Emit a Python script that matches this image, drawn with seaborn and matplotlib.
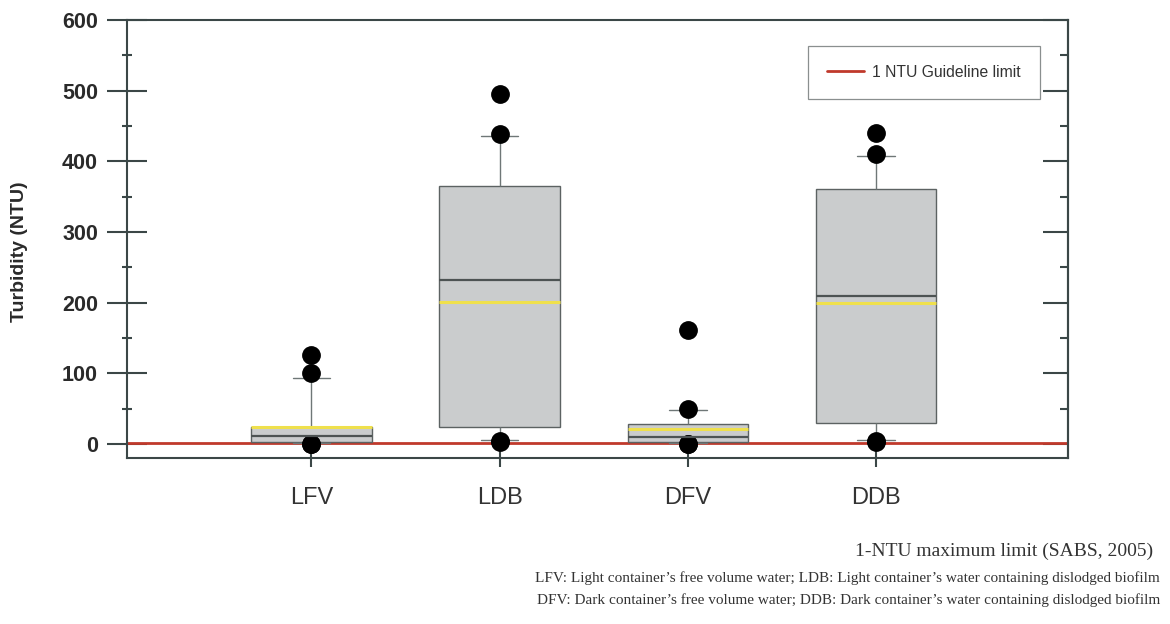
import matplotlib
matplotlib.use("Agg")
import matplotlib.pyplot as plt
from matplotlib.ticker import MultipleLocator, FixedLocator
from matplotlib.lines import Line2D
import pandas as pd
import seaborn as sns

# Turbidity readings (NTU) per sample group
groups = ["LFV", "LDB", "DFV", "DDB"]
lfv_ntu = [0.1, 0.4, 0.8, 1.5, 2.2, 3, 4, 5, 6.5, 8.5, 11, 12.5, 14, 16, 19,
           24, 26, 30, 93, 100, 126]
ldb_ntu = [2, 4, 5, 10, 18, 24, 30, 45, 70, 111, 232, 245, 270, 300, 330,
           365, 380, 410, 436, 439, 495]
dfv_ntu = [0.1, 0.3, 0.6, 1.2, 2, 3, 4, 5, 6.5, 8, 10, 11.5, 13, 15, 18,
           28, 29, 32, 48, 50, 161]
ddb_ntu = [2, 4, 6, 12, 20, 30, 45, 80, 125, 184, 209, 225, 255, 290, 325,
           361, 375, 395, 407, 410, 440]

guideline_ntu = 1
guideline_label = "1 NTU Guideline limit"
y_ticks = [0, 100, 200, 300, 400, 500, 600]
y_label = "Turbidity (NTU)"
notes = [
    "1-NTU maximum limit (SABS, 2005)",
    "LFV: Light container\u2019s free volume water; LDB: Light container\u2019s water containing dislodged biofilm",
    "DFV: Dark container\u2019s free volume water; DDB: Dark container\u2019s water containing dislodged biofilm",
]

df = pd.DataFrame({
    "group": [g for g, vals in zip(groups, [lfv_ntu, ldb_ntu, dfv_ntu, ddb_ntu]) for _ in vals],
    "ntu": lfv_ntu + ldb_ntu + dfv_ntu + ddb_ntu,
})

sns.set_style("ticks")
plt.rcParams["font.family"] = ["Liberation Sans", "DejaVu Sans"]

axis_col = "#3b4747"
fig = plt.figure(figsize=(11.7, 6.24), dpi=100)
ax = fig.add_axes([0.10855, 0.26603, 0.80427, 0.70192])

sns.boxplot(
    data=df, x="group", y="ntu", order=groups, ax=ax,
    width=0.64, whis=(10, 90), color="#c9ccce", linecolor="#5c6262",
    linewidth=1.0, fliersize=12.5,
    showmeans=True, meanline=True,
    meanprops=dict(color="#efe04c", linestyle="-", linewidth=2.2),
    medianprops=dict(color="#4d5353", linewidth=1.6),
    whiskerprops=dict(color="#6f7777", linewidth=1.0),
    capprops=dict(color="#6f7777", linewidth=1.0),
    flierprops=dict(marker="o", markerfacecolor="black", markeredgecolor="black"),
    capwidths=0.2,
)

ax.axhline(guideline_ntu, color="#c0392b", linewidth=2.0, zorder=1.5)

ax.set_xlim(-0.98, 4.02)
ax.set_ylim(-20, 600)
ax.yaxis.set_major_locator(FixedLocator(y_ticks))
ax.yaxis.set_minor_locator(MultipleLocator(50))

ax.set_xlabel("")
ax.set_ylabel(y_label, fontsize=14, fontweight="bold", color="#2a2a2a")
ax.yaxis.set_label_coords(-0.105, 0.47)

for side in ["left", "right", "top", "bottom"]:
    ax.spines[side].set_visible(True)
    ax.spines[side].set_color(axis_col)
    ax.spines[side].set_linewidth(1.5)

ax.tick_params(axis="y", which="major", direction="inout", length=28.8, width=1.5,
               color=axis_col, labelsize=15.5, pad=6.5, labelcolor="#2a2a2a")
ax.tick_params(axis="y", which="minor", direction="inout", length=7.2, width=1.5,
               color=axis_col)
for lbl in ax.get_yticklabels():
    lbl.set_fontweight("bold")
ax.tick_params(axis="x", which="major", direction="inout", length=13, width=1.5,
               color=axis_col, labelsize=17, pad=14.5, labelcolor="#333333")

# right-hand inward ticks
sec = ax.secondary_yaxis("right")
sec.yaxis.set_major_locator(FixedLocator(y_ticks))
sec.yaxis.set_minor_locator(MultipleLocator(50))
sec.tick_params(which="major", direction="in", length=18, width=1.5, color=axis_col,
                labelright=False)
sec.tick_params(which="minor", direction="in", length=5.8, width=1.5, color=axis_col)
sec.spines["right"].set_color(axis_col)
sec.spines["right"].set_linewidth(1.5)

handle = Line2D([], [], color="#c0392b", linewidth=2.0)
leg = ax.legend([handle], [guideline_label], loc="upper right",
                bbox_to_anchor=(0.970, 0.9406), borderaxespad=0, fontsize=11.3,
                frameon=True, fancybox=False, framealpha=1, edgecolor="#8a8f8f",
                borderpad=1.2, handlelength=2.4, handletextpad=0.5)
leg.get_frame().set_linewidth(0.9)
for t in leg.get_texts():
    t.set_color("#333333")

note_x = [0.9855, 0.9915, 0.9915]
note_y = [0.117, 0.0737, 0.0385]
note_size = [14, 11, 11]
for text, x, y, fs in zip(notes, note_x, note_y, note_size):
    fig.text(x, y, text, ha="right", va="center", fontsize=fs,
             family=["Liberation Serif", "DejaVu Serif"], color="#333333")

fig.savefig("out.png", dpi=100, facecolor="white")
